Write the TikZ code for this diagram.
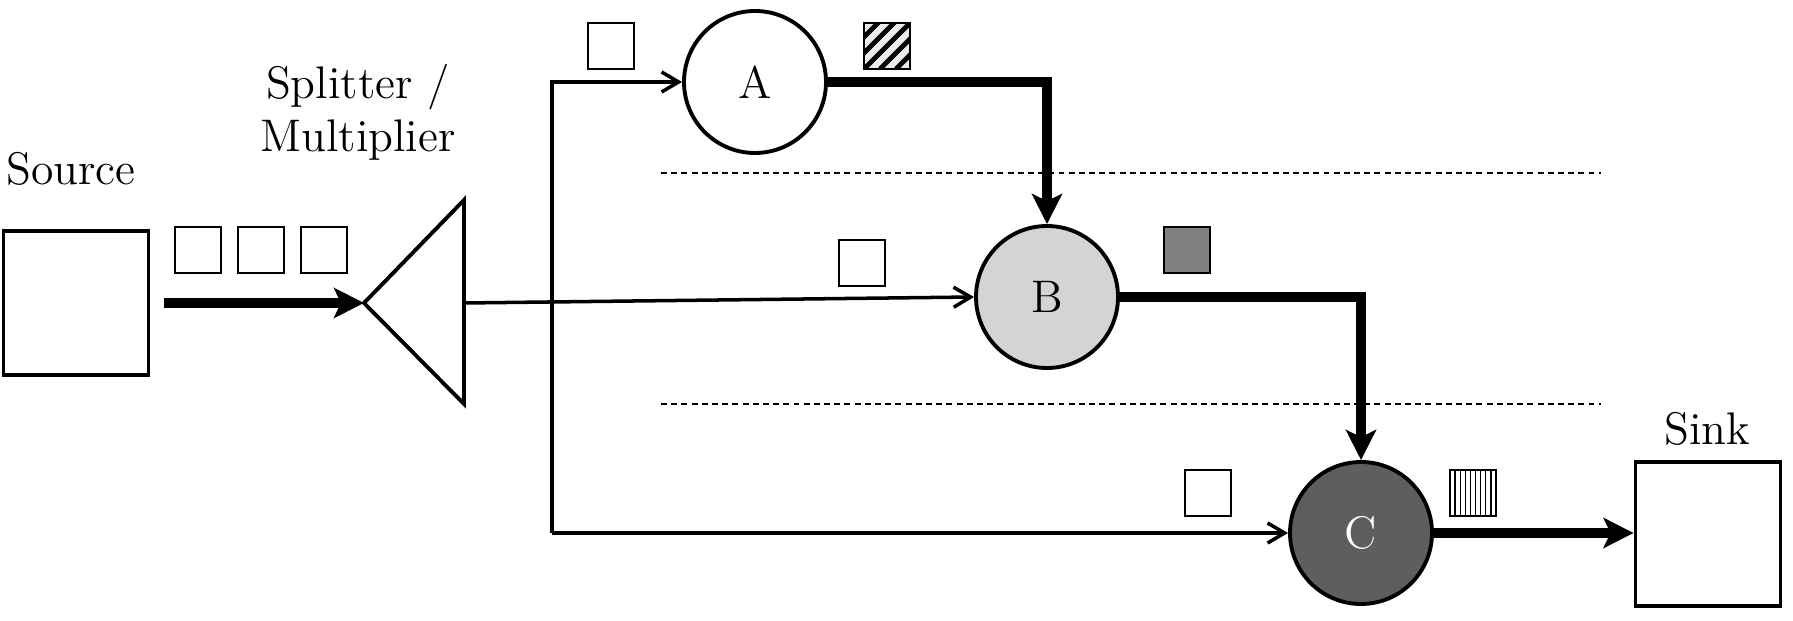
\documentclass[tikz,border=0pt]{standalone}
\usepackage{tikz}
\usetikzlibrary{arrows.meta,calc,positioning}

\tikzset{
  box/.style={draw,line width=1.1pt,minimum width=1.45cm,minimum height=1.44cm,inner sep=0pt},
  proc/.style={draw,circle,line width=1.1pt,minimum size=1.42cm,inner sep=0pt},
  packet/.style={draw,line width=0.5pt,minimum size=0.46cm,inner sep=0pt},
  stripes/.style={packet,fill=black!8,path picture={
      \foreach \k in {-3,...,3}
        \draw[line width=1.4pt] ([xshift=\k*0.16cm]path picture bounding box.south west) -- ++(0.6,0.6);}},
  vlines/.style={packet,path picture={
      \foreach \k in {1,...,8}
        \draw[line width=0.4pt] ([xshift=\k*0.051cm]path picture bounding box.south west) -- ++(0,0.5);}},
  flow/.style={line width=1pt,-{Straight Barb[length=0.17cm,width=0.2cm]}},
  bigflow/.style={line width=2.6pt,-{Stealth[length=0.3cm,width=0.3cm,inset=0.07cm]}},
  layer/.style={line width=0.5pt,dash pattern=on 1.7pt off 1.2pt}
}

\begin{document}
\begin{tikzpicture}[>=Latex,font=\fontsize{13}{15}\selectfont]
    \useasboundingbox (0,0) rectangle (17.93,6.21);
    % source and splitter
    \node[box] (src) at (0.76,3.18) {};
    \node (srclabel) at (0.71,4.52) {Source};
    \foreach \x [count=\i] in {1.98,2.61,3.24}
        \node[packet] (q\i) at (\x,3.71) {};
    \coordinate (tip) at (3.64,3.18);
    \coordinate (ttop) at (4.64,4.21);
    \coordinate (tbot) at (4.64,2.17);
    \coordinate (tout) at (4.64,3.18);
    \draw[line width=1.1pt] (tip) -- (ttop) -- (tbot) -- cycle;
    \node[align=center] (splabel) at (3.58,5.09) {Splitter /\\Multiplier};
    \draw[bigflow] ([xshift=0.14cm]src.east) -- (tip);
    % stages
    \node[proc] (A) at (7.55,5.39) {A};
    \node[proc,fill=black!17] (B) at (10.47,3.24) {B};
    \node[proc,fill=black!63,text=white] (C) at (13.61,0.88) {C};
    \node[box] (sink) at (17.08,0.87) {};
    \node (sinklabel) at (17.07,1.92) {Sink};
    \draw[layer] (6.61,4.48) -- (16.01,4.48);
    \draw[layer] (6.61,2.17) -- (16.01,2.17);
    % inputs
    \coordinate (fork) at (5.52,0);
    \draw[flow] (tout) -- (B.west);
    \draw[flow] (fork |- C.west) -- (fork |- A.west) -- (A.west);
    \draw[flow] (fork |- C.west) -- (C.west);
    \node[packet] (qa) at (6.11,5.75) {};
    \node[packet] (qb) at (8.62,3.58) {};
    \node[packet] (qc) at (12.08,1.28) {};
    % outputs
    \draw[bigflow] (A.east) -| (B.north);
    \draw[bigflow] (B.east) -| (C.north);
    \draw[bigflow] (C.east) -- (C.east -| sink.west);
    \node[stripes] (qab) at (8.87,5.75) {};
    \node[packet,fill=black!50] (qbc) at (11.87,3.71) {};
    \node[vlines] (qout) at (14.73,1.28) {};
\end{tikzpicture}
\end{document}
